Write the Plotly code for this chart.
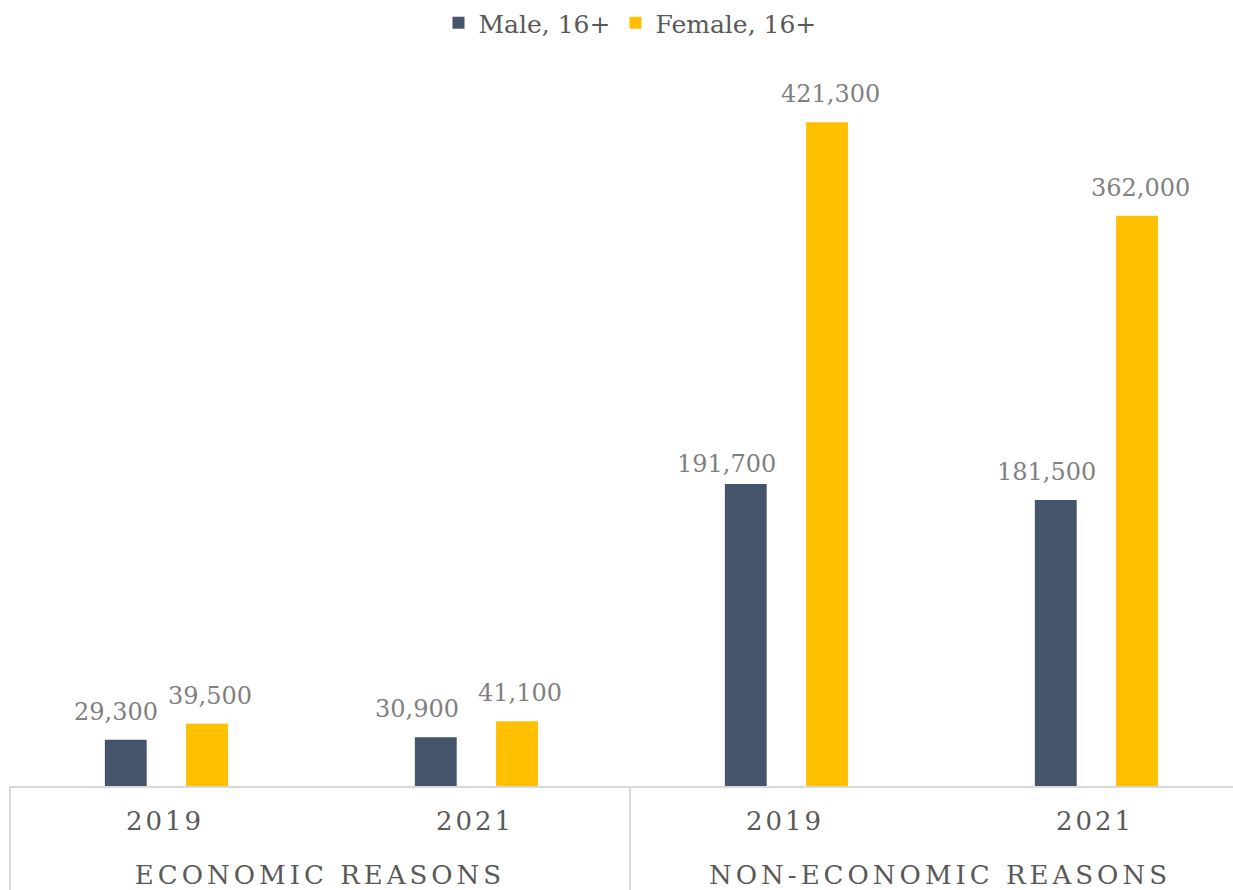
import plotly.graph_objects as go

# Data
groups = ["ECONOMIC REASONS", "NON-ECONOMIC REASONS"]
years = ["2019", "2021", "2019", "2021"]
male = [29300, 30900, 191700, 181500]
female = [39500, 41100, 421300, 362000]
series_names = ["Male, 16+", "Female, 16+"]
colors = ["#44546A", "#FFC000"]

FONT = "DejaVu Serif"
positions = list(range(len(years)))
group_positions = [0.5, 2.5]
bar_width = 0.135
offsets = [-0.194, 0.068]
# small pixel nudges for value labels so neighbouring labels stay apart
label_dx = [[-10, -19, -19, -9], [3, 3, 3, 3]]
label_dy = [[0, 0, -8, 0], [0, 0, 0, 0]]

fig = go.Figure()
for k, (name, vals, col, off) in enumerate(zip(series_names, [male, female], colors, offsets)):
    fig.add_trace(go.Bar(
        x=positions, y=vals, name=name,
        marker=dict(color=col, line=dict(width=0)),
        width=bar_width, offset=off, hoverinfo="y",
    ))
    # value labels above each bar
    for i, (p, v) in enumerate(zip(positions, vals)):
        fig.add_annotation(
            x=p + off + bar_width / 2, y=v, xref="x", yref="y",
            text=f"{v:,}", showarrow=False, yanchor="bottom",
            xshift=label_dx[k][i], yshift=12 + label_dy[k][i],
            font=dict(family=FONT, size=24, color="#808080"),
        )

# carrier trace for the second (group) row of the category axis
fig.add_trace(go.Scatter(
    x=group_positions, y=[None] * len(group_positions), xaxis="x2",
    mode="markers", showlegend=False, hoverinfo="skip",
))

# category dividers
for xp in [0, 0.5, 1]:
    fig.add_shape(type="line", xref="paper", yref="paper",
                  x0=xp, x1=xp, y0=0, y1=-0.25,
                  line=dict(color="#D9D9D9", width=2))

fig.update_layout(
    width=1260, height=900,
    margin=dict(l=10, r=10, t=0, b=114),
    plot_bgcolor="white", paper_bgcolor="white",
    barmode="overlay",
    showlegend=True,
    legend=dict(orientation="h", x=0.5, xanchor="center", y=0.977, yanchor="middle",
                font=dict(family=FONT, size=25, color="#595959"),
                itemwidth=30, traceorder="normal", bgcolor="rgba(0,0,0,0)"),
    xaxis=dict(
        range=[-0.5, 3.5], tickmode="array", tickvals=positions,
        ticktext=[f'<span style="letter-spacing:3px">{y}</span>' for y in years],
        showgrid=False, zeroline=False, showline=True,
        linecolor="#D9D9D9", linewidth=2, ticks="",
        ticklabelstandoff=11,
        tickfont=dict(family=FONT, size=26, color="#595959"),
    ),
    # second row of category labels (reason groups)
    xaxis2=dict(
        overlaying="x", anchor="y", side="bottom",
        range=[-0.5, 3.5], tickmode="array", tickvals=group_positions,
        ticktext=[f'<span style="letter-spacing:4px">{g}</span>' for g in groups],
        showgrid=False, zeroline=False, showline=False, ticks="",
        ticklabelstandoff=71,
        tickfont=dict(family=FONT, size=26, color="#595959"),
    ),
    yaxis=dict(range=[0, 495700], visible=False),
)

fig.write_html("out.html")
